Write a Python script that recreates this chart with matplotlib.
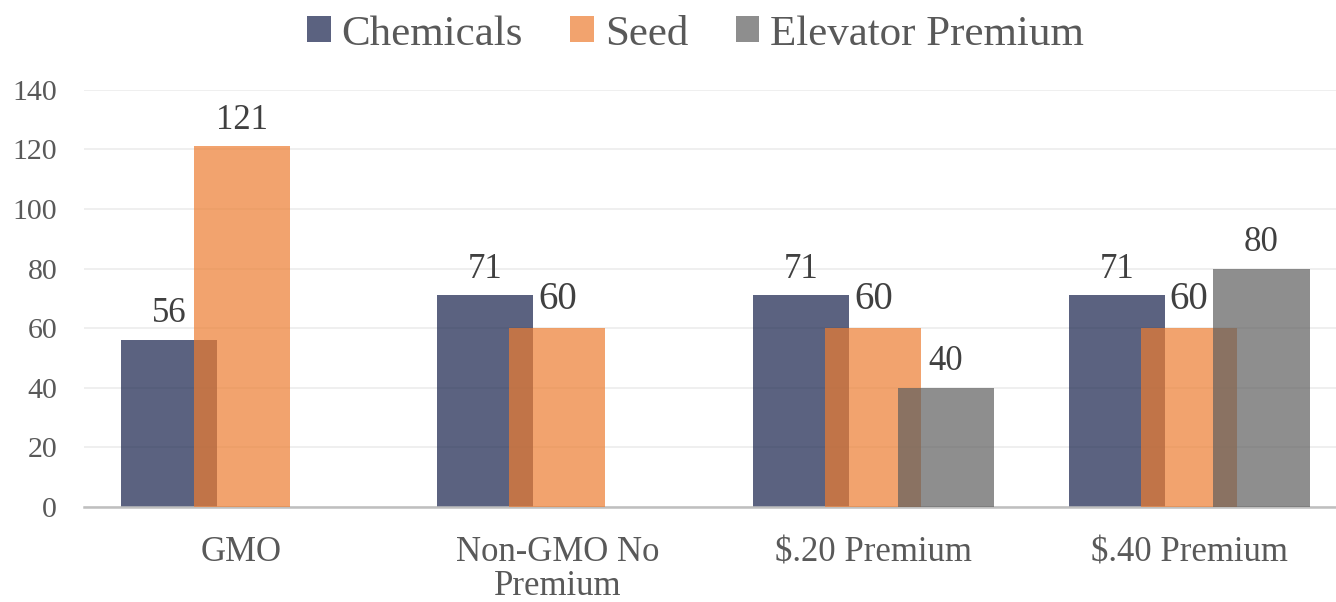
import numpy as np
import matplotlib
matplotlib.use("Agg")
import matplotlib.pyplot as plt
from matplotlib.patches import Patch

plt.rcParams["font.family"] = ["Liberation Serif", "DejaVu Serif"]

categories = ["GMO", "Non-GMO No\nPremium", "$.20 Premium", "$.40 Premium"]
series_names = ["Chemicals", "Seed", "Elevator Premium"]
chemicals = [56, 71, 71, 71]
seed = [121, 60, 60, 60]
elevator = [None, None, 40, 80]

colors = ["#15204a", "#ed7d31", "#5e5e5e"]
alpha = 0.7

fig = plt.figure(figsize=(13.36, 6.02), dpi=100)
ax = fig.add_axes([0.0626, 0.158, 0.9457, 0.6927])

x = np.arange(len(categories))
step = 0.229
width = 0.304
offsets = [-step, 0.0, step]

for k, (vals, col) in enumerate(zip([chemicals, seed, elevator], colors)):
    xs = [xi + offsets[k] for xi, v in zip(x, vals) if v is not None]
    hs = [v for v in vals if v is not None]
    bars = ax.bar(xs, hs, width=width, color=col, alpha=alpha, linewidth=0, zorder=2 + k)
    if k == 1:
        fs = [25 if h > 100 else 28 for h in hs]
    else:
        fs = [25] * len(hs)
    for b, h, f in zip(bars, hs, fs):
        ax.annotate(str(h), (b.get_x() + b.get_width() / 2, h), xytext=(0, 7),
                    textcoords="offset points", ha="center", va="bottom",
                    fontsize=f, color="#404040", zorder=10)

ax.set_xlim(-0.5, 3.5)
ax.set_ylim(0, 140)
ax.set_yticks(range(0, 141, 20))
ax.set_xticks(x)
ax.set_xticklabels(categories, fontsize=25, color="#595959", linespacing=1.05)
ax.tick_params(axis="y", labelsize=21.5, labelcolor="#595959", length=0, pad=19)
ax.tick_params(axis="x", length=0, pad=21)

ax.grid(axis="y", color="#ececec", linewidth=1.2, zorder=0)
ax.set_axisbelow(True)
for s in ["top", "right", "left"]:
    ax.spines[s].set_visible(False)
ax.spines["bottom"].set_color("#bfbfbf")
ax.spines["bottom"].set_linewidth(1.8)

handles = [Patch(facecolor=c, alpha=alpha) for c in colors]
fig.legend(handles, series_names, loc="center", bbox_to_anchor=(0.5206, 0.943),
           ncol=3, frameon=False, fontsize=31, labelcolor="#595959",
           handlelength=0.55, handleheight=0.55, handletextpad=0.25,
           columnspacing=1.1, borderpad=0)

fig.savefig("out.png", dpi=100)
